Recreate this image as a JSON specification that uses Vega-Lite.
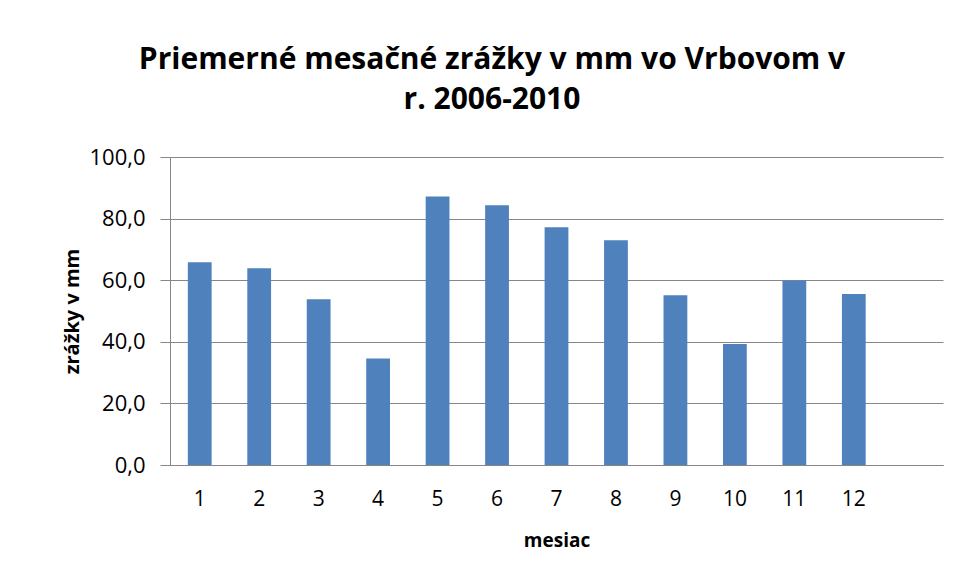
{
  "$schema": "https://vega.github.io/schema/vega-lite/v6.json",
  "width": 773,
  "height": 308,
  "autosize": {"type": "none"},
  "padding": {"left": 170, "top": 157, "right": 15, "bottom": 116},
  "background": "white",
  "title": {
    "text": ["Priemerné mesačné zrážky v mm vo Vrbovom v", "r. 2006-2010"],
    "font": "Open Sans",
    "fontSize": 30,
    "fontWeight": "bold",
    "color": "#000000",
    "anchor": "middle",
    "frame": "bounds",
    "lineHeight": 40,
    "offset": 31,
    "dx": -11
  },
  "data": {
    "values": [
      {"mesiac": 1, "zrazky": 65.8},
      {"mesiac": 2, "zrazky": 63.9},
      {"mesiac": 3, "zrazky": 53.8},
      {"mesiac": 4, "zrazky": 34.6},
      {"mesiac": 5, "zrazky": 87.2},
      {"mesiac": 6, "zrazky": 84.3},
      {"mesiac": 7, "zrazky": 77.2},
      {"mesiac": 8, "zrazky": 73.0},
      {"mesiac": 9, "zrazky": 55.1},
      {"mesiac": 10, "zrazky": 39.3},
      {"mesiac": 11, "zrazky": 59.9},
      {"mesiac": 12, "zrazky": 55.5}
    ]
  },
  "mark": {"type": "bar", "color": "#4F81BD"},
  "encoding": {
    "x": {
      "field": "mesiac",
      "type": "ordinal",
      "title": "mesiac",
      "scale": {"domain": [1, 2, 3, 4, 5, 6, 7, 8, 9, 10, 11, 12, 13], "paddingInner": 0.6, "paddingOuter": 0.3},
      "axis": {
        "labelAngle": 0,
        "labelExpr": "datum.value == 13 ? '' : datum.label",
        "ticks": false,
        "domainColor": "#868686",
        "labelFont": "Open Sans",
        "labelFontSize": 21,
        "labelColor": "#000000",
        "labelPadding": 23,
        "titleFont": "Open Sans",
        "titleFontSize": 19,
        "titleFontWeight": "bold",
        "titleColor": "#000000",
        "titlePadding": 22
      }
    },
    "y": {
      "field": "zrazky",
      "type": "quantitative",
      "title": "zrážky v mm",
      "scale": {"domain": [0, 100], "nice": false},
      "axis": {
        "values": [0, 20, 40, 60, 80, 100],
        "labelExpr": "replace(format(datum.value, '.1f'), '.', ',')",
        "grid": true,
        "gridColor": "#868686",
        "domainColor": "#868686",
        "tickColor": "#868686",
        "tickSize": 10,
        "labelFont": "Open Sans",
        "labelFontSize": 22,
        "labelColor": "#000000",
        "labelPadding": 15,
        "titleFont": "Open Sans",
        "titleFontSize": 20,
        "titleFontWeight": "bold",
        "titleColor": "#000000",
        "titlePadding": 6
      }
    }
  },
  "config": {"view": {"stroke": null}}
}
